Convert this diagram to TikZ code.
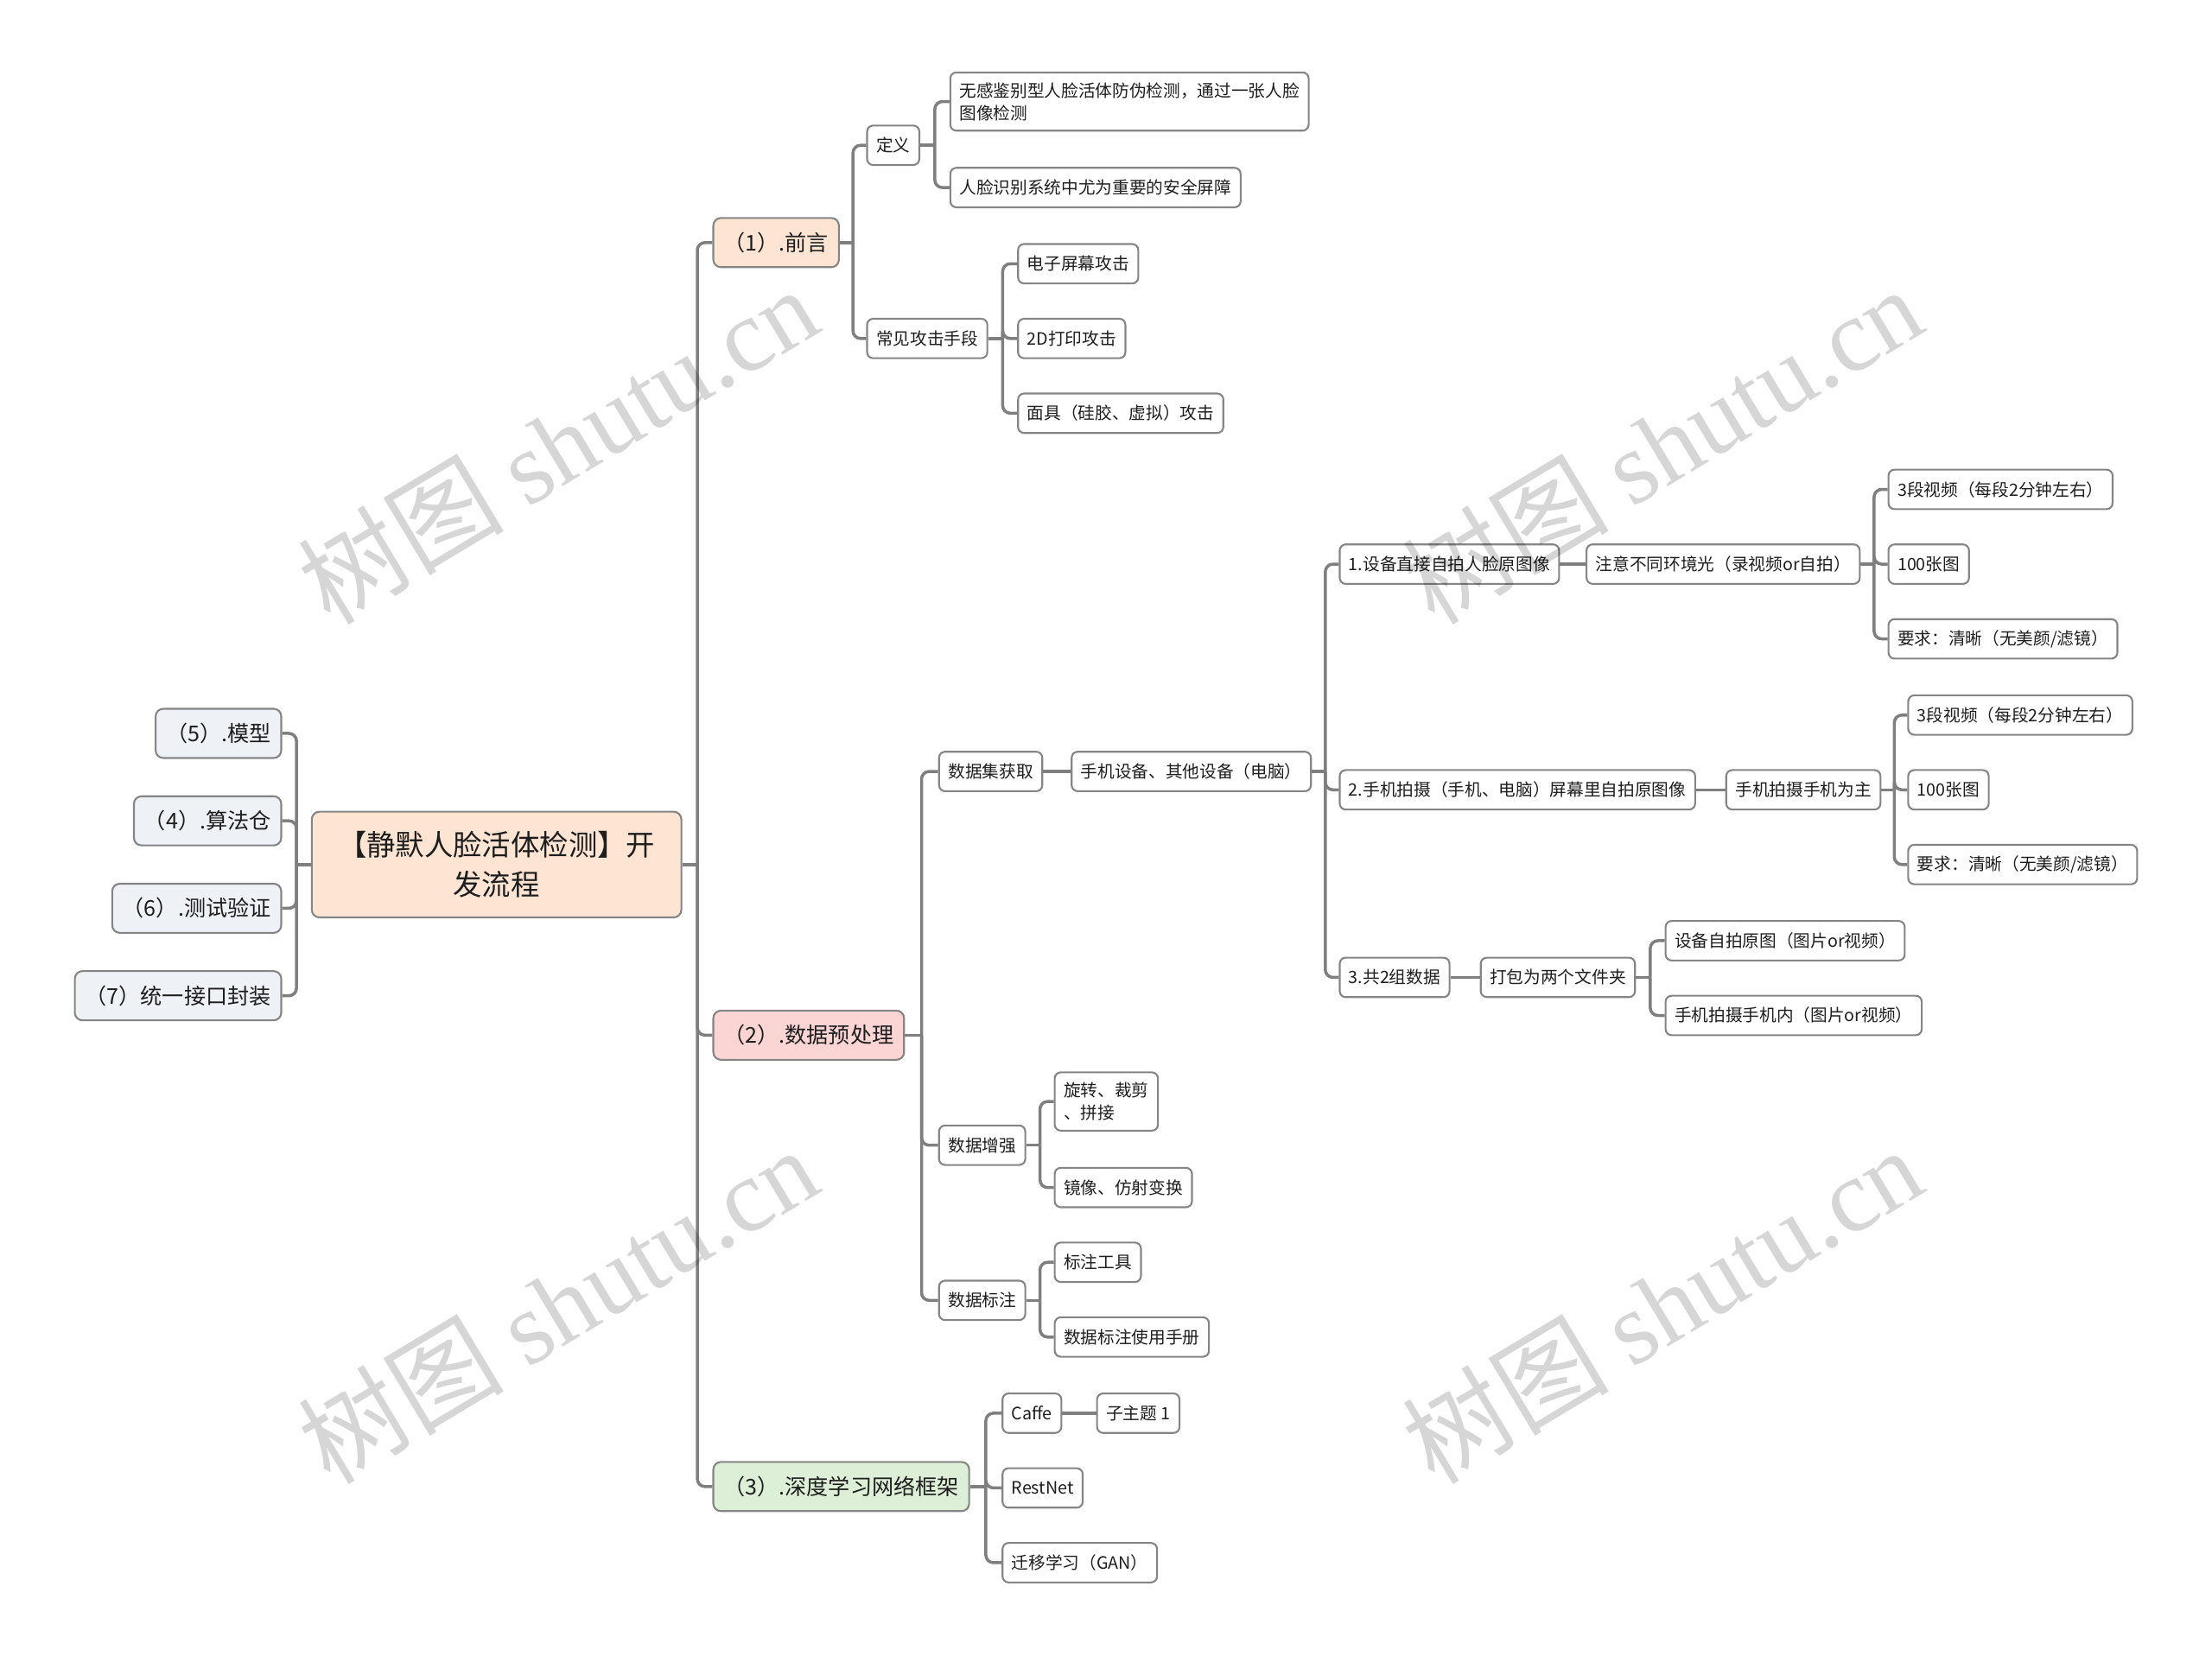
\documentclass[tikz,border=0pt]{standalone}
\usepackage{fontspec}
\setmainfont{Noto Sans CJK SC}
\newfontfamily\wmfont{Liberation Serif}
\usetikzlibrary{calc}

\definecolor{linkgray}{HTML}{7F7F7F}
\definecolor{boxgray}{HTML}{858585}
\definecolor{inkgray}{HTML}{1E1E1E}
\definecolor{peach}{HTML}{FDE4D3}
\definecolor{rosepink}{HTML}{FBD4D4}
\definecolor{palegreen}{HTML}{DDEFD7}
\definecolor{paleblue}{HTML}{EEF1F5}

\tikzset{
  leaf/.style={draw=boxgray, fill=white, line width=0.6pt, rounded corners=2pt,
    inner xsep=3pt, inner ysep=3.3pt, minimum height=13pt, anchor=west, align=left,
    text=inkgray, font=\fontsize{5.6}{7.4}\selectfont},
  topic/.style={leaf, rounded corners=2.5pt, inner xsep=3.4pt, minimum height=16.2pt,
    font=\fontsize{7.15}{9}\selectfont},
  rootbox/.style={draw=boxgray, fill=peach, line width=0.6pt, rounded corners=2.5pt,
    minimum width=121.7pt, minimum height=34.8pt, align=center, text=inkgray,
    font=\fontsize{9.5}{13}\selectfont},
  link/.style={draw=linkgray, line width=1pt, rounded corners=2.5pt},
  wmark/.style={rotate=31, text=black, text opacity=0.16, inner sep=0pt,
    font=\fontsize{34}{34}\selectfont}
}

\begin{document}
\begin{tikzpicture}[x=0.016327cm, y=-0.016327cm]
\useasboundingbox (0,0) rectangle (1568,1174);

% root and left side
\node[rootbox] (root) at (352,613) {【静默人脸活体检测】开\\发流程};
\node[topic, fill=paleblue, anchor=east] (m5) at (200,520) {（5）.模型};
\node[topic, fill=paleblue, anchor=east] (m4) at (200,582) {（4）.算法仓};
\node[topic, fill=paleblue, anchor=east] (m6) at (200,644) {（6）.测试验证};
\node[topic, fill=paleblue, anchor=east] (m7) at (200,706) {（7）统一接口封装};

% main branches
\node[topic, fill=peach] (p1) at (505,172) {（1）.前言};
\node[topic, fill=rosepink] (p2) at (505,734) {（2）.数据预处理};
\node[topic, fill=palegreen] (p3) at (505,1054) {（3）.深度学习网络框架};

% (1)
\node[leaf] (dy) at (614,103) {定义};
\node[leaf] (gj) at (614,240) {常见攻击手段};
\node[leaf] (dy1) at (673,72) {无感鉴别型人脸活体防伪检测，通过一张人脸\\图像检测};
\node[leaf] (dy2) at (673,133) {人脸识别系统中尤为重要的安全屏障};
\node[leaf] (gj1) at (721,187) {电子屏幕攻击};
\node[leaf] (gj2) at (721,240) {2D打印攻击};
\node[leaf] (gj3) at (721,293) {面具（硅胶、虚拟）攻击};

% (2)
\node[leaf] (sj) at (665,547) {数据集获取};
\node[leaf] (zq) at (665,812) {数据增强};
\node[leaf] (bz) at (665,922) {数据标注};
\node[leaf] (sb) at (759,547) {手机设备、其他设备（电脑）};
\node[leaf] (s1) at (949,400) {1.设备直接自拍人脸原图像};
\node[leaf] (s2) at (949,560) {2.手机拍摄（手机、电脑）屏幕里自拍原图像};
\node[leaf] (s3) at (949,693) {3.共2组数据};
\node[leaf] (s1a) at (1124,400) {注意不同环境光（录视频or自拍）};
\node[leaf] (s1b) at (1338,347) {3段视频（每段2分钟左右）};
\node[leaf] (s1c) at (1338,400) {100张图};
\node[leaf] (s1d) at (1338,453) {要求：清晰（无美颜/滤镜）};
\node[leaf] (s2a) at (1223,560) {手机拍摄手机为主};
\node[leaf] (s2b) at (1352,507) {3段视频（每段2分钟左右）};
\node[leaf] (s2c) at (1352,560) {100张图};
\node[leaf] (s2d) at (1352,613) {要求：清晰（无美颜/滤镜）};
\node[leaf] (s3a) at (1049,693) {打包为两个文件夹};
\node[leaf] (s3b) at (1180,667) {设备自拍原图（图片or视频）};
\node[leaf] (s3c) at (1180,720) {手机拍摄手机内（图片or视频）};
\node[leaf] (zq1) at (747,781) {旋转、裁剪\\、拼接};
\node[leaf] (zq2) at (747,842) {镜像、仿射变换};
\node[leaf] (bz1) at (747,895) {标注工具};
\node[leaf] (bz2) at (747,948) {数据标注使用手册};

% (3)
\node[leaf] (k1) at (710,1002) {Caffe};
\node[leaf] (k2) at (710,1055) {RestNet};
\node[leaf] (k3) at (710,1108) {迁移学习（GAN）};
\node[leaf] (k1a) at (777,1002) {子主题 1};

% connectors
\coordinate (jl) at ($(root.west)!.5!(root.west -| m5.east)$);
\draw[link] (root.west) -- (jl);
\foreach \c in {m5,m4,m6,m7} \draw[link] (jl) |- (\c.east);

\coordinate (jr) at ($(root.east)!.5!(root.east -| p1.west)$);
\draw[link] (root.east) -- (jr);
\foreach \c in {p1,p2,p3} \draw[link] (jr) |- (\c.west);

\foreach \p/\first/\kids in {p1/dy/{dy,gj}, dy/dy1/{dy1,dy2}, gj/gj1/{gj1,gj2,gj3},
    p2/sj/{sj,zq,bz}, sb/s1/{s1,s2,s3}, s1a/s1b/{s1b,s1c,s1d}, s2a/s2b/{s2b,s2c,s2d},
    s3a/s3b/{s3b,s3c}, zq/zq1/{zq1,zq2}, bz/bz1/{bz1,bz2}, p3/k1/{k1,k2,k3}}{
  \coordinate (j\p) at ($(\p.east)!.5!(\p.east -| \first.west)$);
  \draw[link] (\p.east) -- (j\p);
  \foreach \c in \kids \draw[link] (j\p) |- (\c.west);
}

% single children
\draw[link] (sj.east) -- (sb.west);
\draw[link] (s1.east) -- (s1a.west);
\draw[link] (s2.east) -- (s2a.west);
\draw[link] (s3.east) -- (s3a.west);
\draw[link] (k1.east) -- (k1a.west);

% watermarks
\node[wmark] (wm1) at (395,315) {树图 {\wmfont shutu.cn}};
\node[wmark] (wm2) at (1178,315) {树图 {\wmfont shutu.cn}};
\node[wmark] (wm3) at (395,925) {树图 {\wmfont shutu.cn}};
\node[wmark] (wm4) at (1178,925) {树图 {\wmfont shutu.cn}};

\end{tikzpicture}
\end{document}
